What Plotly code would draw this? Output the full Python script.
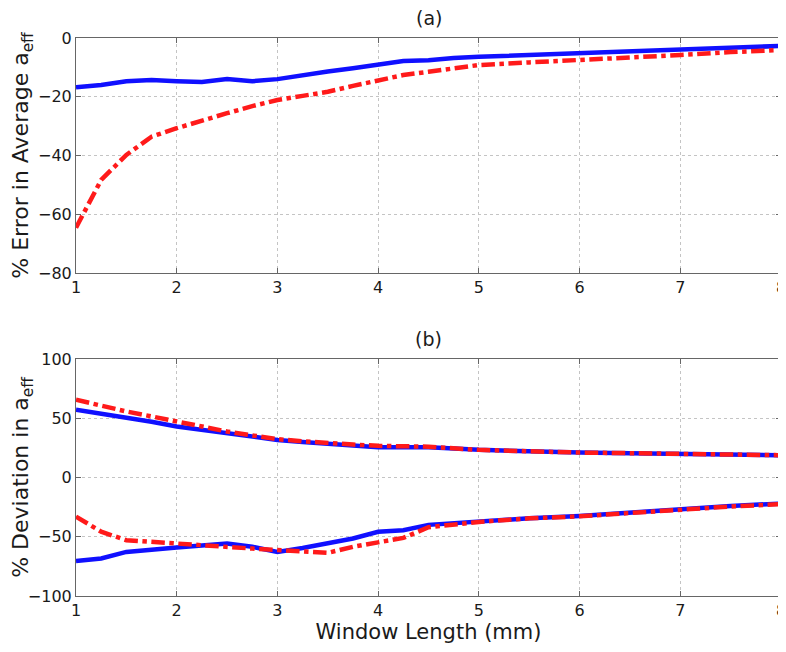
import plotly.graph_objects as go
from plotly.subplots import make_subplots

# (a) average error in a_eff
a_x = [1, 1.1, 1.25, 1.5, 1.75, 2, 2.25, 2.5, 2.75, 3, 3.25, 3.5, 3.75, 4, 4.25, 4.5, 4.75, 5, 5.5, 6, 6.5, 7, 7.5, 8]
a_blue = [-16.8, -16.5, -16, -14.7, -14.3, -14.7, -15, -14, -14.7, -14, -12.6, -11.4, -10.3, -8.9, -7.8, -7.6, -6.8, -6.4, -5.8, -5.1, -4.6, -3.8, -3.2, -2.7]
a_red = [-64.6, -58, -48.3, -39.8, -33.6, -30.7, -28, -25.6, -23.2, -21.1, -19.7, -18.3, -16.3, -14.3, -12.6, -11.5, -10.2, -9.2, -8.3, -7.5, -6.9, -5.8, -4.8, -4.1]

# (b) deviation in a_eff (upper / lower bounds)
b_x = [1, 1.25, 1.5, 1.75, 2, 2.25, 2.5, 2.75, 3, 3.25, 3.5, 3.75, 4, 4.25, 4.5, 5, 5.5, 6, 6.5, 7, 7.5, 8]
b_blue_up = [57.1, 54, 50.9, 47, 43, 40, 37.4, 34.5, 31.7, 30, 28.4, 27, 25.5, 25.5, 25.5, 23.3, 22, 21, 20.5, 20, 19.3, 18.8]
b_red_up = [65.6, 60.5, 55.7, 51.5, 47.2, 43, 38.8, 35.5, 32.3, 30.5, 28.9, 27.8, 26.7, 26.5, 26, 23.3, 22, 21, 20.5, 20, 19.3, 18.8]
b_blue_lo = [-70.4, -68.4, -62.8, -60.5, -59, -57.5, -55.7, -58.5, -62.8, -59.5, -55.7, -51.5, -45.8, -44.5, -40, -37, -34.5, -32.5, -29.5, -26.3, -24, -22]
b_red_lo = [-33, -45.8, -52.9, -54.5, -55.7, -57, -58.5, -60, -61.3, -62.5, -63.6, -58.5, -54.3, -51, -42, -37.5, -34.5, -32.8, -30, -27, -24.5, -22.5]

BLUE = '#1010ff'
RED = '#ff1a1a'
FONT = 'DejaVu Sans, Liberation Sans, sans-serif'
TXT = '#1a1a1a'

fig = make_subplots(rows=2, cols=1)

fig.add_trace(go.Scatter(x=a_x, y=a_blue, mode='lines', line=dict(color=BLUE, width=4.5)), row=1, col=1)
fig.add_trace(go.Scatter(x=a_x, y=a_red, mode='lines', line=dict(color=RED, width=4.5, dash='dashdot')), row=1, col=1)

fig.add_trace(go.Scatter(x=b_x, y=b_blue_up, mode='lines', line=dict(color=BLUE, width=4.5)), row=2, col=1)
fig.add_trace(go.Scatter(x=b_x, y=b_blue_lo, mode='lines', line=dict(color=BLUE, width=4.5)), row=2, col=1)
fig.add_trace(go.Scatter(x=b_x, y=b_red_up, mode='lines', line=dict(color=RED, width=4.5, dash='dashdot')), row=2, col=1)
fig.add_trace(go.Scatter(x=b_x, y=b_red_lo, mode='lines', line=dict(color=RED, width=4.5, dash='dashdot')), row=2, col=1)

axis_style = dict(
    showline=True, linecolor='#666666', linewidth=1, mirror='ticks',
    ticks='inside', ticklen=5, tickcolor='#666666',
    showgrid=True, gridcolor='#c4c4c4', griddash='dot', gridwidth=1,
    zeroline=False, tickfont=dict(family=FONT, size=16, color=TXT),
    ticklabeloverflow='allow', automargin=False,
)
fig.update_xaxes(**axis_style, range=[1, 8], dtick=1)
fig.update_yaxes(**axis_style)

# page body adds an 8px offset, so the figure is 8px smaller than the window
fig.update_xaxes(domain=[0.0874, 0.9936])
fig.update_yaxes(row=1, col=1, domain=[0.5885, 0.9534], range=[-80, 0], dtick=20,
                 title=dict(text='% Error in Average a<sub>eff</sub>', font=dict(family=FONT, size=22, color=TXT), standoff=4))
fig.update_yaxes(row=2, col=1, domain=[0.0870, 0.4550], range=[-100, 100], dtick=50,
                 title=dict(text='% Deviation in a<sub>eff</sub>', font=dict(family=FONT, size=22, color=TXT), standoff=4))
fig.update_xaxes(row=2, col=1, title=dict(text='Window Length (mm)', font=dict(family=FONT, size=21, color=TXT), standoff=2))

fig.add_annotation(text='(a)', x=0.5, y=0.9534, xref='x domain', yref='paper', yanchor='bottom', yshift=7,
                   showarrow=False, font=dict(family=FONT, size=19, color=TXT), xanchor='center')
fig.add_annotation(text='(b)', x=0.5, y=0.4550, xref='x2 domain', yref='paper', yanchor='bottom', yshift=7,
                   showarrow=False, font=dict(family=FONT, size=19, color=TXT), xanchor='center')

fig.update_layout(
    width=778, height=644, showlegend=False,
    margin=dict(l=0, r=0, t=0, b=0),
    plot_bgcolor='white', paper_bgcolor='white',
)

fig.write_html("out.html")
